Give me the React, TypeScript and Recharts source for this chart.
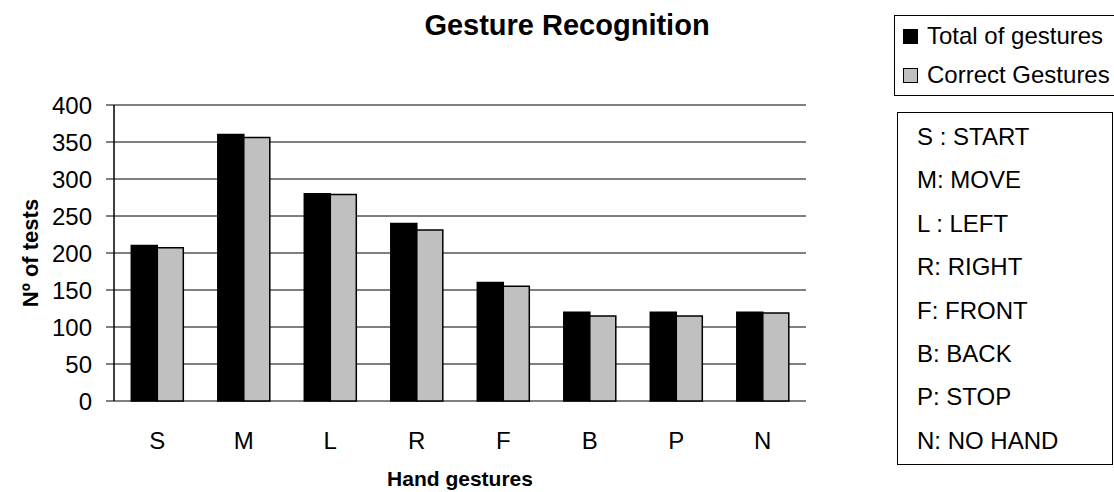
import React from 'react';
import { BarChart, Bar, XAxis, YAxis, CartesianGrid, Label } from 'recharts';

const categories = ['S', 'M', 'L', 'R', 'F', 'B', 'P', 'N'];
const totalGestures = [210, 360, 280, 240, 160, 120, 120, 120];
const correctGestures = [207, 356, 279, 231, 155, 115, 115, 119];
const yTicks = [0, 50, 100, 150, 200, 250, 300, 350, 400];
const boundaryTicks = [0, 1, 2, 3, 4, 5, 6, 7, 8];
const codeLegend = ['S : START', 'M: MOVE', 'L : LEFT', 'R: RIGHT', 'F: FRONT', 'B: BACK', 'P: STOP', 'N: NO HAND'];
const seriesNames = ['Total of gestures', 'Correct Gestures'];

const data = categories.map((c, i) => ({
  name: c,
  idx: i,
  total: totalGestures[i],
  correct: correctGestures[i],
}));

const FONT = 'Arial, "Liberation Sans", sans-serif';

export default function App() {
  return (
    <div style={{ position: 'absolute', left: 0, top: 0, width: 1114, height: 492, background: '#fff', fontFamily: FONT, overflow: 'hidden' }}>
      <BarChart
        width={1114}
        height={492}
        data={data}
        margin={{ top: 105, right: 308, bottom: 0, left: 0 }}
        barCategoryGap="20%"
        barGap={0}
      >
        <CartesianGrid vertical={false} stroke="#000" strokeWidth={1} />
        <XAxis
          xAxisId="bound"
          type="number"
          dataKey="idx"
          domain={[0, 8]}
          ticks={boundaryTicks}
          tick={false}
          tickSize={7}
          tickLine={{ stroke: '#555', strokeWidth: 1.5 }}
          axisLine={{ stroke: '#000', strokeWidth: 1.5 }}
          height={0}
          allowDataOverflow
        />
        <XAxis
          dataKey="name"
          tickLine={false}
          axisLine={false}
          tickSize={6}
          tickMargin={25}
          tick={{ fill: '#000', fontSize: 24, fontFamily: FONT }}
          height={91}
        >
          <Label value="Hand gestures" position="insideBottom" offset={6} style={{ fontWeight: 'bold', fontSize: 21, fill: '#000', fontFamily: FONT }} />
        </XAxis>
        <YAxis
          domain={[0, 400]}
          ticks={yTicks}
          width={114}
          tickSize={8}
          tickMargin={14}
          interval={0}
          tick={{ fill: '#000', fontSize: 24, fontFamily: FONT }}
          tickLine={{ stroke: '#000', strokeWidth: 1 }}
          axisLine={{ stroke: '#000', strokeWidth: 1.5 }}
        >
          <Label value="Nº of tests" angle={-90} position="insideLeft" offset={30} style={{ fontWeight: 'bold', fontSize: 22, fill: '#000', textAnchor: 'middle', fontFamily: FONT }} />
        </YAxis>
        <YAxis
          yAxisId="right"
          orientation="right"
          domain={[0, 400]}
          width={0}
          tick={false}
          tickLine={false}
          axisLine={{ stroke: '#888', strokeWidth: 1 }}
        />
        <Bar dataKey="total" name={seriesNames[0]} fill="#000" stroke="#000" strokeWidth={1.5} isAnimationActive={false} />
        <Bar dataKey="correct" name={seriesNames[1]} fill="#C0C0C0" stroke="#000" strokeWidth={1.5} isAnimationActive={false} />
      </BarChart>

      <div style={{ position: 'absolute', left: 0, width: 1134, top: 8, textAlign: 'center', fontWeight: 'bold', fontSize: 29, lineHeight: '34px', color: '#000' }}>
        Gesture Recognition
      </div>

      <div style={{ position: 'absolute', left: 894, top: 15, width: 240, height: 81, border: '1px solid #000', boxSizing: 'border-box' }}>
        {seriesNames.map((n, i) => (
          <div key={n} style={{ position: 'absolute', left: 8, top: 6 + i * 39, height: 28, lineHeight: '28px', display: 'flex', alignItems: 'center', whiteSpace: 'nowrap', fontSize: 24 }}>
            <span style={{ display: 'inline-block', width: 15, height: 15, background: i === 0 ? '#000' : '#C0C0C0', border: '1px solid #000', boxSizing: 'border-box', marginRight: 9 }} />
            {n}
          </div>
        ))}
      </div>

      <div style={{ position: 'absolute', left: 897, top: 112, width: 216, height: 353, border: '1.5px solid #000', boxSizing: 'border-box' }}>
        {codeLegend.map((t, i) => (
          <div key={t} style={{ position: 'absolute', left: 19, top: 10 + i * 43.4, height: 28, lineHeight: '28px', whiteSpace: 'nowrap', fontSize: 24 }}>
            {t}
          </div>
        ))}
      </div>
    </div>
  );
}
